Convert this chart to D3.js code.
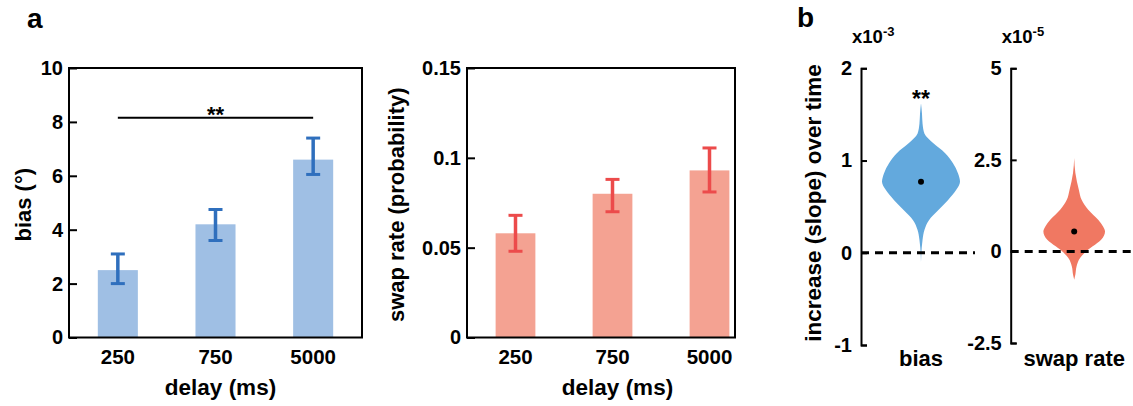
<!DOCTYPE html>
<html>
<head>
<meta charset="utf-8">
<script src="https://cdn.jsdelivr.net/npm/d3@7"></script>
<style>
body { margin: 0; background: #fff; }
svg text { font-family: "Liberation Sans", Arial, Helvetica, sans-serif; font-weight: bold; fill: #000; }
</style>
</head>
<body>
<div id="chart"></div>
<script>
// panel a - bars
var delays = ["250", "750", "5000"];

var biasMean = [2.5, 4.2, 6.6];
var biasLow = [2.0, 3.6, 6.05];
var biasHigh = [3.1, 4.75, 7.4];
var biasTicks = [0, 2, 4, 6, 8, 10];

var swapMean = [0.058, 0.080, 0.093];
var swapLow = [0.048, 0.070, 0.081];
var swapHigh = [0.068, 0.088, 0.1055];
var swapTicks = [0, 0.05, 0.1, 0.15];

var sigPair = ["250", "5000"];
var sigLevel = 8.15;

// panel b - slope posteriors (violins), density relative to widest
var biasSlopeY = [-0.1, 0.14, 0.25, 0.35, 0.46, 0.57, 0.68, 0.77, 0.86, 0.97, 1.08, 1.19, 1.29, 1.40, 1.51, 1.62];
var biasSlopeDensity = [0, 0.04, 0.09, 0.2, 0.44, 0.69, 0.9, 1, 0.95, 0.82, 0.62, 0.31, 0.09, 0.04, 0.025, 0];
var biasSlopeMedian = 0.77;
var biasSlopeTicks = [-1, 0, 1, 2];

var swapSlopeY = [-0.77, -0.63, -0.41, -0.18, 0.05, 0.23, 0.32, 0.545, 0.68, 0.86, 1.14, 1.41, 1.68, 2.14, 2.55];
var swapSlopeDensity = [0, 0.03, 0.06, 0.15, 0.36, 0.59, 0.69, 0.79, 0.74, 0.62, 0.36, 0.19, 0.12, 0.03, 0];
var swapSlopeMedian = 0.545;
var swapSlopeTicks = [-2.5, 0, 2.5, 5];

function barPanel(svg, o) {
    var g = svg.append("g").attr("transform", "translate(" + o.left + "," + o.top + ")");

    var x = d3.scaleBand().domain(delays).range([0, o.span]).paddingInner(0.59).paddingOuter(0.295);
    var y = d3.scaleLinear().domain(o.domain).range([o.h, 0]);

    var rows = delays.map(function(d, i) {
        return {delay: d, mean: o.mean[i], lo: o.low[i], hi: o.high[i]};
    });

    g.selectAll("rect.bar")
        .data(rows)
        .join("rect")
        .attr("class", "bar")
        .attr("x", d => x(d.delay))
        .attr("width", x.bandwidth())
        .attr("y", d => y(d.mean))
        .attr("height", d => o.h - y(d.mean))
        .attr("fill", o.barColor);

    // error bars
    var eb = g.selectAll("g.err").data(rows).join("g").attr("class", "err")
        .attr("transform", d => "translate(" + (x(d.delay) + x.bandwidth() / 2) + ",0)")
        .attr("stroke", o.errColor);
    eb.append("line").attr("y1", d => y(d.lo)).attr("y2", d => y(d.hi)).attr("stroke-width", 3.5);
    eb.append("line").attr("x1", -7).attr("x2", 7).attr("y1", d => y(d.hi)).attr("y2", d => y(d.hi)).attr("stroke-width", 3);
    eb.append("line").attr("x1", -7).attr("x2", 7).attr("y1", d => y(d.lo)).attr("y2", d => y(d.lo)).attr("stroke-width", 3);

    // y axis, ticks pointing in
    g.append("g")
        .call(d3.axisLeft(y).tickValues(o.ticks).tickSize(-8).tickPadding(6).tickFormat(d => d))
        .attr("font-size", 20)
        .call(a => a.select(".domain").remove())
        .call(a => a.selectAll("line").attr("stroke-width", 2));

    // x axis labels only
    g.append("g")
        .attr("transform", "translate(0," + o.h + ")")
        .call(d3.axisBottom(x).tickSize(0).tickPadding(12))
        .attr("font-size", 20.5)
        .call(a => a.select(".domain").remove());

    g.append("rect")
        .attr("width", o.w).attr("height", o.h)
        .attr("fill", "none").attr("stroke", "#000").attr("stroke-width", 2);

    g.append("text")
        .attr("x", o.span / 2 + 5).attr("y", o.h + 57)
        .attr("text-anchor", "middle").attr("font-size", 22.5)
        .text("delay (ms)");

    g.append("text")
        .attr("transform", "translate(" + o.titleX + "," + (o.h / 2 + 2) + ") rotate(-90)")
        .attr("text-anchor", "middle").attr("font-size", 22)
        .text(o.title);

    return {g: g, x: x, y: y};
}

function violinPanel(svg, o) {
    var g = svg.append("g").attr("transform", "translate(" + o.left + "," + o.top + ")");

    var y = d3.scaleLinear().domain(o.domain).range([o.h, 0]);
    var x = d3.scaleBand().domain([o.name]).range([0, o.w]);
    var cx = x(o.name) + x.bandwidth() / 2;
    var half = d3.scaleLinear().domain([0, 1]).range([0, 39]);

    var pts = o.ys.map(function(v, i) { return {v: v, d: o.dens[i]}; });

    var area = d3.area()
        .curve(d3.curveMonotoneY)
        .y(p => y(p.v))
        .x0(p => cx - half(p.d))
        .x1(p => cx + half(p.d));

    g.append("path").datum(pts).attr("d", area).attr("fill", o.color);

    g.append("line")
        .attr("x1", 0).attr("x2", o.zeroLen)
        .attr("y1", y(0)).attr("y2", y(0))
        .attr("stroke", "#000").attr("stroke-width", 3)
        .attr("stroke-dasharray", "8,6");

    g.append("circle").attr("cx", cx).attr("cy", y(o.median)).attr("r", 3).attr("fill", "#000");

    g.append("g")
        .call(d3.axisLeft(y).tickValues(o.ticks).tickSize(-6).tickPadding(9).tickFormat(d => d))
        .attr("font-size", 20)
        .call(a => a.selectAll("line, path").attr("stroke-width", 2));

    g.append("text")
        .attr("x", cx).attr("y", 298)
        .attr("text-anchor", "middle").attr("font-size", 22)
        .text(o.name);

    var ex = g.append("text").attr("x", -9).attr("y", -25).attr("font-size", 18.5).text("x10");
    ex.append("tspan").attr("font-size", 13).attr("dy", -7).text(o.exponent);

    return {g: g, x: x, y: y, cx: cx};
}

function init() {
    var w = 1133;
    var h = 406;

    var svg = d3.select("#chart")
        .append("svg")
        .attr("width", w)
        .attr("height", h);

    var left = barPanel(svg, {
        left: 69, top: 68, w: 293, h: 269.5, span: 293,
        domain: [0, 10], ticks: biasTicks,
        mean: biasMean, low: biasLow, high: biasHigh,
        barColor: "#9fbfe4", errColor: "#2f6fbd",
        title: "bias (°)", titleX: -38
    });

    // significance bracket
    var sx = left.x, sy = left.y;
    left.g.append("line")
        .attr("x1", sx(sigPair[0]) + sx.bandwidth() / 2)
        .attr("x2", sx(sigPair[1]) + sx.bandwidth() / 2)
        .attr("y1", sy(sigLevel)).attr("y2", sy(sigLevel))
        .attr("stroke", "#000").attr("stroke-width", 2);
    left.g.append("text")
        .attr("x", (sx(sigPair[0]) + sx(sigPair[1]) + sx.bandwidth()) / 2)
        .attr("y", sy(sigLevel) + 4)
        .attr("text-anchor", "middle").attr("font-size", 22)
        .text("**");

    barPanel(svg, {
        left: 467, top: 68, w: 268, h: 269.5, span: 291,
        domain: [0, 0.15], ticks: swapTicks,
        mean: swapMean, low: swapLow, high: swapHigh,
        barColor: "#f4a292", errColor: "#ec4b4b",
        title: "swap rate (probability)", titleX: -63
    });

    var vb = violinPanel(svg, {
        left: 861, top: 68.3, w: 120, h: 276.7,
        name: "bias", domain: [-1, 2], ticks: biasSlopeTicks,
        ys: biasSlopeY, dens: biasSlopeDensity, median: biasSlopeMedian,
        color: "#63a9dd", zeroLen: 114, exponent: "-3"
    });
    vb.g.append("text")
        .attr("x", vb.cx).attr("y", vb.y(1.62) + 4)
        .attr("text-anchor", "middle").attr("font-size", 23)
        .text("**");

    violinPanel(svg, {
        left: 1010.7, top: 68.3, w: 127, h: 274.7,
        name: "swap rate", domain: [-2.5, 5], ticks: swapSlopeTicks,
        ys: swapSlopeY, dens: swapSlopeDensity, median: swapSlopeMedian,
        color: "#f07862", zeroLen: 125, exponent: "-5"
    });

    svg.append("text")
        .attr("transform", "translate(821,203) rotate(-90)")
        .attr("text-anchor", "middle").attr("font-size", 22.5)
        .text("increase (slope) over time");

    svg.append("text").attr("x", 27).attr("y", 28).attr("font-size", 28).text("a");
    svg.append("text").attr("x", 797).attr("y", 27).attr("font-size", 28).text("b");
}

window.onload = init;
</script>
</body>
</html>
